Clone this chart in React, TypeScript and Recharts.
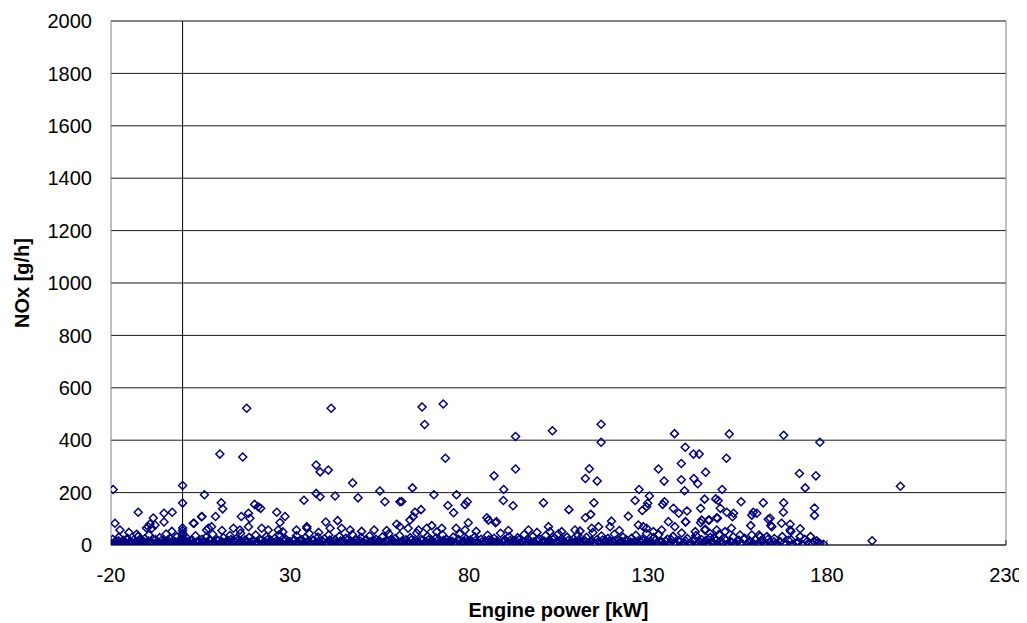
import React from "react";
import { ScatterChart, Scatter, XAxis, YAxis, CartesianGrid, ReferenceLine } from "recharts";

// axis ticks
const xTicks = [-20, 30, 80, 130, 180, 230];
const yTicks = [0, 200, 400, 600, 800, 1000, 1200, 1400, 1600, 1800, 2000];

// [engine power kW, NOx g/h]
const highLeft: [number, number][] = [
  [-19.4, 212], [0, 227], [0, 160], [17.9, 522], [41.5, 522], [10.4, 347], [16.8, 336], [37.3, 305],
  [38.4, 279], [40.7, 286], [47.5, 237], [55.1, 206], [56.5, 165], [37.3, 197], [38.4, 184], [42.6, 187],
  [49, 180], [6.1, 192], [10.8, 161], [11.2, 138], [20.1, 155], [21.8, 140], [-12.4, 125], [-18.9, 83],
  [-5.2, 121], [-2.9, 125], [-8.2, 103], [-5.2, 88], [-10.1, 65], [-9.1, 80], [5.4, 109], [9.2, 109],
  [3.2, 83], [16.4, 109], [18.4, 121], [18.8, 102], [26.3, 125], [28.6, 109], [27.2, 86], [33.9, 171],
  [40, 88], [43.3, 93], [60.7, 165],
];

const highMid: [number, number][] = [
  [66.9, 527], [72.8, 538], [67.6, 460], [73.4, 331], [93, 414], [103.3, 436], [116.9, 461], [116.9, 392],
  [137.4, 425], [140.4, 373], [93, 290], [87, 264], [89.7, 212], [113.6, 291], [112.5, 254], [115.8, 244],
  [132.9, 290], [139.3, 311], [134.5, 244], [139.3, 249], [140.2, 207], [64.2, 218], [61.2, 166], [70.2, 192],
  [76.5, 192], [74.1, 151], [79.5, 165], [78.9, 154], [75.7, 123], [66.6, 135], [64.9, 125], [79.8, 85],
  [89.6, 170], [92.3, 150], [100.8, 161], [107.9, 135], [85, 104], [87.4, 85], [114.9, 161], [114, 117],
  [112.5, 104], [127.5, 212], [126.4, 170], [130.4, 187], [129.9, 159], [128.4, 132], [124.5, 110],
  [134.6, 165], [134.1, 155], [137.1, 140], [138.6, 121], [140.5, 89],
];

const highRight: [number, number][] = [
  [152.7, 424], [167.9, 419], [178, 392], [142.7, 347], [144.3, 347], [151.9, 331], [146.1, 278], [142.8, 254],
  [143.9, 234], [150.7, 212], [172.3, 273], [176.9, 264], [173.9, 218], [200.5, 224], [192.6, 16], [145.8, 175],
  [148.9, 176], [149.6, 170], [156, 165], [162.2, 161], [167.9, 161], [167.8, 125], [176.5, 141], [176.5, 113],
  [144.7, 140], [140.9, 130], [150.2, 140], [152, 125], [153.9, 121], [153.6, 108], [159.4, 125], [163.6, 98],
  [164.3, 74], [158.7, 74], [149.2, 104], [147.1, 95], [144.7, 85], [140.5, 88], [169.7, 79], [172.5, 62],
  [169.9, 52], [172.5, 32], [175.4, 32], [177.1, 16], [167.5, 32], [161, 38], [165.3, 25], [153.3, 64],
  [149.2, 57], [146, 60], [143.2, 51],
];

const midLow: [number, number][] = [
  [-9.6, 70], [-7.7, 76], [-8.6, 64], [-17.5, 57], [-12.8, 41], [3, 83], [5.3, 108], [7.2, 64], [8.1, 70],
  [6.7, 57], [14.2, 64], [18.4, 70], [16, 57], [21.1, 146], [22.1, 64], [23.9, 57], [26.7, 57], [31.8, 57],
  [34.7, 64], [41.2, 64], [44.4, 64], [46.8, 57], [53.5, 57], [59.8, 79], [60.7, 70], [63, 64], [63.5, 95],
  [64.4, 108], [65.9, 57], [68.2, 64], [69.6, 74], [72.4, 64], [76.4, 64], [78.9, 57], [85.4, 95], [87.7, 89],
  [129.6, 146], [135.7, 89], [137.5, 70], [119.8, 91], [119.4, 70], [116.2, 70], [114.3, 64], [96.6, 57],
  [102.2, 70], [102.6, 51], [105.9, 51], [109.6, 57], [127.3, 76], [128.7, 70], [129.6, 64], [131.5, 51],
  [133.8, 57], [145, 95], [146.9, 95], [149.4, 102], [145.9, 57], [147.3, 44], [151.5, 51], [155.7, 38],
  [159, 38], [161.3, 32], [163.2, 32], [169.7, 57], [159, 114], [160.4, 121], [164.1, 102], [164.6, 70],
  [167.3, 83], [34.7, 70], [-15, 48], [-3, 52], [11, 55], [28, 50], [38, 48], [50, 52], [57, 55], [71, 50],
  [82, 52], [91, 55], [99, 48], [111, 53], [122, 55],
];

const band1: [number, number][] = [
  [-20, 8], [-19.5, 22], [-19, 3], [-18.4, 14], [-17.8, 30], [-17.2, 6], [-16.6, 18], [-16, 2], [-15.4, 26],
  [-14.8, 11], [-14.2, 4], [-13.6, 20], [-13, 9], [-12.4, 33], [-11.8, 2], [-11.2, 15], [-10.6, 24], [-10, 7],
  [-9.4, 38], [-8.8, 12], [-8.2, 3], [-7.6, 21], [-7, 10], [-6.4, 28], [-5.8, 5], [-5.2, 16], [-4.6, 42],
  [-4, 9], [-3.4, 24], [-2.8, 2], [-2.2, 13], [-1.6, 31], [-1, 6], [-0.5, 19], [0, 5], [0, 15], [0, 25],
  [0, 35], [0, 45], [0, 55], [0, 65], [0.6, 10], [1.2, 27], [1.8, 3], [2.4, 17], [3, 8], [3.6, 35], [4.2, 12],
  [4.8, 2], [5.4, 22], [6, 9], [6.6, 30], [7.2, 4], [7.8, 16], [8.4, 41], [9, 7], [9.6, 20], [10.2, 2],
  [10.8, 12], [11.4, 28], [12, 6], [12.6, 18], [13.2, 36], [13.8, 3], [14.4, 14], [15, 24], [15.6, 8],
  [16.2, 45], [16.8, 2], [17.4, 19], [18, 11], [18.6, 29], [19.2, 5], [19.8, 16], [20.4, 38], [21, 8],
  [21.6, 22], [22.2, 3], [22.8, 13], [23.4, 32], [24, 6], [24.6, 18], [25.2, 2], [25.8, 26], [26.4, 10],
  [27, 40], [27.6, 4], [28.2, 15], [28.8, 23], [29.4, 7],
];

const band2: [number, number][] = [
  [30, 12], [30.6, 3], [31.2, 20], [31.8, 35], [32.4, 8], [33, 16], [33.6, 2], [34.2, 27], [34.8, 11],
  [35.4, 44], [36, 5], [36.6, 18], [37.2, 9], [37.8, 30], [38.4, 3], [39, 14], [39.6, 24], [40.2, 7],
  [40.8, 38], [41.4, 12], [42, 2], [42.6, 21], [43.2, 9], [43.8, 33], [44.4, 5], [45, 16], [45.6, 26],
  [46.2, 3], [46.8, 12], [47.4, 40], [48, 7], [48.6, 19], [49.2, 2], [49.8, 29], [50.4, 10], [51, 17],
  [51.6, 4], [52.2, 34], [52.8, 13], [53.4, 6], [54, 22], [54.6, 2], [55.2, 11], [55.8, 31], [56.4, 8],
  [57, 18], [57.6, 43], [58.2, 4], [58.8, 14], [59.4, 25], [60, 6], [60.6, 36], [61.2, 11], [61.8, 2],
  [62.4, 20], [63, 9], [63.6, 28], [64.2, 4], [64.8, 15], [65.4, 46], [66, 7], [66.6, 22], [67.2, 2],
  [67.8, 12], [68.4, 33], [69, 5], [69.6, 18], [70.2, 10], [70.8, 27], [71.4, 3], [72, 14], [72.6, 39],
  [73.2, 8], [73.8, 21], [74.4, 2], [75, 11], [75.6, 30], [76.2, 6], [76.8, 17], [77.4, 42], [78, 4],
  [78.6, 13], [79.2, 24], [79.8, 8],
];

const band3: [number, number][] = [
  [80.4, 19], [81, 3], [81.6, 31], [82.2, 10], [82.8, 2], [83.4, 22], [84, 7], [84.6, 14], [85.2, 37],
  [85.8, 4], [86.4, 16], [87, 26], [87.6, 9], [88.2, 2], [88.8, 45], [89.4, 12], [90, 20], [90.6, 5],
  [91.2, 32], [91.8, 10], [92.4, 2], [93, 17], [93.6, 28], [94.2, 6], [94.8, 13], [95.4, 40], [96, 3],
  [96.6, 21], [97.2, 9], [97.8, 33], [98.4, 5], [99, 15], [99.6, 24], [100.2, 2], [100.8, 11], [101.4, 36],
  [102, 7], [102.6, 18], [103.2, 4], [103.8, 27], [104.4, 12], [105, 43], [105.6, 3], [106.2, 20], [106.8, 8],
  [107.4, 30], [108, 2], [108.6, 14], [109.2, 23], [109.8, 6], [110.4, 38], [111, 10], [111.6, 3], [112.2, 18],
  [112.8, 29], [113.4, 6], [114, 13], [114.6, 48], [115.2, 4], [115.8, 21], [116.4, 9], [117, 34], [117.6, 2],
  [118.2, 15], [118.8, 25], [119.4, 7], [120, 12], [120.6, 41], [121.2, 3], [121.8, 19], [122.4, 10],
  [123, 30], [123.6, 5], [124.2, 16], [124.8, 2], [125.4, 26], [126, 9], [126.6, 37], [127.2, 4], [127.8, 14],
  [128.4, 22], [129, 7], [129.6, 44],
];

const band4: [number, number][] = [
  [130.2, 3], [130.8, 15], [131.6, 28], [132.4, 6], [133, 40], [133.8, 12], [134.6, 2], [135.4, 22], [136.2, 9],
  [137, 33], [137.8, 4], [138.6, 17], [139.4, 46], [140.2, 8], [141, 25], [141.8, 2], [142.6, 14], [143.4, 36],
  [144.2, 6], [145, 20], [145.8, 11], [146.6, 3], [147.4, 29], [148.2, 9], [149, 17], [149.8, 40], [150.6, 5],
  [151.4, 23], [152.2, 2], [153, 13], [153.8, 31], [154.6, 7], [155.4, 18], [156.2, 3], [157, 26], [158, 10],
  [159, 2], [160, 20], [161, 6], [162, 14], [163, 3], [164, 9], [165.6, 5], [167, 12], [168.5, 3], [170, 20],
  [171.5, 8], [173, 2], [174.5, 14], [176, 5], [177.5, 9], [179, 3],
];

// second, lower layer of the dense band along the x axis
const bandLowA: [number, number][] = [
  [-19.7, 1], [-19.1, 10], [-18.5, 4], [-17.9, 16], [-17.3, 7], [-16.7, 2], [-16.1, 12], [-15.5, 20], [-14.9, 5],
  [-14.3, 9], [-13.7, 3], [-13.1, 14], [-12.5, 6], [-11.9, 18], [-11.3, 1], [-10.7, 11], [-10.1, 4], [-9.5, 15],
  [-8.9, 8], [-8.3, 22], [-7.7, 2], [-7.1, 13], [-6.5, 6], [-5.9, 17], [-5.3, 3], [-4.7, 10], [-4.1, 19],
  [-3.5, 5], [-2.9, 12], [-2.3, 1], [-1.7, 8], [-1.1, 16], [-0.5, 4], [0.3, 20], [0.9, 2], [1.5, 12], [2.1, 6],
  [2.7, 18], [3.3, 3], [3.9, 10], [4.5, 15], [5.1, 5], [5.7, 13], [6.3, 1], [6.9, 9], [7.5, 20], [8.1, 4],
  [8.7, 12], [9.3, 2], [9.9, 16], [10.5, 7], [11.1, 11], [11.7, 3], [12.3, 14], [12.9, 6], [13.5, 21], [14.1, 1],
  [14.7, 9], [15.3, 16], [15.9, 4], [16.5, 12], [17.1, 6], [17.7, 18], [18.3, 2], [18.9, 10], [19.5, 14],
  [20.1, 3], [20.7, 11], [21.3, 5], [21.9, 17], [22.5, 1], [23.1, 9], [23.7, 20], [24.3, 4], [24.9, 12],
  [25.5, 7], [26.1, 15], [26.7, 2], [27.3, 10], [27.9, 6], [28.5, 18], [29.1, 3], [29.7, 13], [30.3, 6],
  [30.9, 16], [31.5, 2], [32.1, 11], [32.7, 4], [33.3, 20], [33.9, 8], [34.5, 1], [35.1, 13], [35.7, 6],
  [36.3, 17], [36.9, 3], [37.5, 10], [38.1, 14], [38.7, 5], [39.3, 12], [39.9, 1], [40.5, 9], [41.1, 19],
  [41.7, 4], [42.3, 13], [42.9, 7], [43.5, 2], [44.1, 15], [44.7, 9], [45.3, 4], [45.9, 18], [46.5, 6],
  [47.1, 1], [47.7, 12], [48.3, 4], [48.9, 10], [49.5, 16], [50.1, 3], [50.7, 8], [51.3, 21], [51.9, 5],
  [52.5, 11], [53.1, 2], [53.7, 14], [54.3, 7],
];

const bandLowB: [number, number][] = [
  [54.9, 17], [55.5, 3], [56.1, 10], [56.7, 5], [57.3, 13], [57.9, 1], [58.5, 20], [59.1, 8], [59.7, 3],
  [60.3, 12], [60.9, 6], [61.5, 16], [62.1, 2], [62.7, 10], [63.3, 4], [63.9, 19], [64.5, 8], [65.1, 1],
  [65.7, 13], [66.3, 5], [66.9, 16], [67.5, 3], [68.1, 9], [68.7, 20], [69.3, 2], [69.9, 12], [70.5, 6],
  [71.1, 15], [71.7, 1], [72.3, 8], [72.9, 18], [73.5, 4], [74.1, 11], [74.7, 6], [75.3, 14], [75.9, 2],
  [76.5, 9], [77.1, 21], [77.7, 5], [78.3, 12], [78.9, 1], [79.5, 16], [80.1, 6], [80.7, 10], [81.3, 3],
  [81.9, 18], [82.5, 7], [83.1, 1], [83.7, 13], [84.3, 4], [84.9, 9], [85.5, 20], [86.1, 2], [86.7, 12],
  [87.3, 5], [87.9, 16], [88.5, 8], [89.1, 3], [89.7, 14], [90.3, 1], [90.9, 10], [91.5, 18], [92.1, 5],
  [92.7, 11], [93.3, 2], [93.9, 20], [94.5, 7], [95.1, 13], [95.7, 3], [96.3, 9], [96.9, 16], [97.5, 1],
  [98.1, 12], [98.7, 6], [99.3, 19], [99.9, 4], [100.5, 9], [101.1, 14], [101.7, 2], [102.3, 11], [102.9, 6],
  [103.5, 21], [104.1, 3], [104.7, 8], [105.3, 15], [105.9, 1], [106.5, 12], [107.1, 5], [107.7, 17],
  [108.3, 8], [108.9, 2], [109.5, 11], [110.1, 4], [110.7, 20], [111.3, 7], [111.9, 1], [112.5, 13],
  [113.1, 3], [113.7, 9], [114.3, 16], [114.9, 6], [115.5, 1], [116.1, 12], [116.7, 4], [117.3, 19],
  [117.9, 9], [118.5, 2], [119.1, 14], [119.7, 5], [120.3, 10], [120.9, 17], [121.5, 1], [122.1, 8],
  [122.7, 13], [123.3, 3], [123.9, 20], [124.5, 6], [125.1, 11], [125.7, 2], [126.3, 15], [126.9, 7],
  [127.5, 1], [128.1, 10], [128.7, 16], [129.3, 4], [129.9, 12],
];

const bandLowC: [number, number][] = [
  [130.5, 8], [131.2, 2], [132, 18], [132.8, 5], [133.5, 11], [134.2, 1], [135, 14], [135.8, 4], [136.5, 20],
  [137.3, 7], [138, 2], [138.8, 12], [139.6, 5], [140.5, 16], [141.3, 3], [142, 9], [142.8, 22], [143.7, 1],
  [144.5, 12], [145.3, 6], [146.2, 18], [147, 3], [147.8, 10], [148.6, 25], [149.4, 2], [150.2, 14], [151, 7],
  [151.8, 19], [152.6, 4], [153.4, 10], [154.2, 1], [155, 15], [155.8, 6], [156.8, 22], [157.6, 3], [158.5, 12],
  [159.5, 6], [160.5, 2], [161.5, 16], [162.5, 8], [163.5, 22], [164.5, 3], [165.2, 12], [166.3, 2], [168, 8],
  [169.2, 18], [170.5, 3], [172, 10], [173.7, 22], [175, 2], [176.5, 12], [178, 6],
];

const groups = [bandLowA, bandLowB, bandLowC, band1, band2, band3, band4, midLow, highLeft, highMid, highRight];

const NAVY = "#000080";
const FONT = "'Liberation Sans', Arial, sans-serif";

// hollow diamond marker like the excel one
const Diamond = (props: any) => {
  const { cx, cy } = props;
  if (cx == null || cy == null) return <g />;
  const r = 4;
  return (
    <polygon
      points={`${cx},${cy - r} ${cx + r},${cy} ${cx},${cy + r} ${cx - r},${cy}`}
      fill="none"
      stroke={NAVY}
      strokeWidth={1.5}
    />
  );
};

export default function App() {
  return (
    <div style={{ width: 1019, height: 615, fontFamily: FONT }}>
      <ScatterChart width={1019} height={615} margin={{ top: 13, right: 21, left: 0, bottom: 0 }}>
        <CartesianGrid vertical={false} stroke="#000" strokeOpacity={0.9} />
        <XAxis
          type="number"
          dataKey="x"
          domain={[-20, 230]}
          ticks={xTicks}
          interval={0}
          allowDataOverflow
          height={78}
          tickSize={-5}
          tickMargin={28}
          stroke="#333"
          tick={{ fill: "#000", fontSize: 20, fontFamily: FONT }}
          label={{
            value: "Engine power [kW]",
            position: "insideBottom",
            offset: 6,
            style: { fontSize: 20, fontWeight: "bold", fill: "#000", fontFamily: FONT },
          }}
        />
        <YAxis
          type="number"
          dataKey="y"
          domain={[0, 2000]}
          ticks={yTicks}
          interval={0}
          allowDataOverflow
          width={103}
          tickLine={false}
          tickSize={0}
          tickMargin={19}
          stroke="#808080"
          tick={{ fill: "#000", fontSize: 20, fontFamily: FONT }}
          label={{
            value: "NOx [g/h]",
            angle: -90,
            position: "insideLeft",
            offset: 14,
            style: { fontSize: 20, fontWeight: "bold", fill: "#000", fontFamily: FONT, textAnchor: "middle" },
          }}
        />
        <ReferenceLine y={2000} stroke="#808080" />
        <ReferenceLine x={230} stroke="#808080" />
        <ReferenceLine x={0} stroke="#000" />
        {groups.map((g, i) => (
          <Scatter
            key={i}
            data={g.map(([x, y]) => ({ x, y }))}
            shape={Diamond}
            isAnimationActive={false}
          />
        ))}
      </ScatterChart>
    </div>
  );
}
